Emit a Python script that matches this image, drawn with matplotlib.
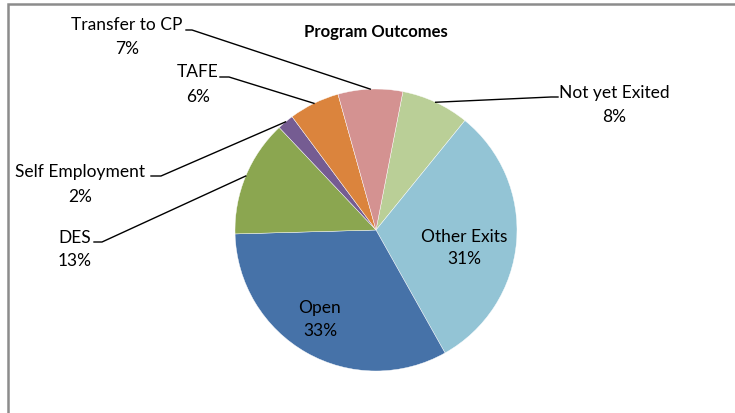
import numpy as np
import matplotlib
matplotlib.use("Agg")
import matplotlib.pyplot as plt
from matplotlib.patches import Rectangle

# Datos (en %), orden horario desde arriba
categorias = ["Not yet Exited", "Other Exits", "Open", "DES",
              "Self Employment", "TAFE", "Transfer to CP"]
valores = [7.8, 31.0, 32.7, 13.4, 1.9, 5.8, 7.4]
etiquetas_pct = ["8%", "31%", "33%", "13%", "2%", "6%", "7%"]
colores = ["#BACF97", "#93C4D5", "#4672A8", "#8BA650",
           "#755C92", "#DB843D", "#D49291"]

plt.rcParams['font.family'] = ['Lato', 'DejaVu Sans']

W, H = 735, 414
fig = plt.figure(figsize=(W / 100, H / 100), dpi=100)
ax = fig.add_axes([0, 0, 1, 1])
ax.set_xlim(0, W)
ax.set_ylim(0, H)
ax.set_aspect('equal')
ax.axis('off')

def Y(y):  # coordenada de imagen -> datos
    return H - y

# marco del grafico (cortado a la derecha y abajo)
ax.add_patch(Rectangle((8, -20), W + 20, Y(5) + 20, fill=False,
                       edgecolor="#8C8C8C", linewidth=1.8))

cx, cy, r = 376, Y(231), 141
wedges, _ = ax.pie(valores, colors=colores, startangle=79, counterclock=False,
                   center=(cx, cy), radius=r, frame=True,
                   wedgeprops=dict(edgecolor="white", linewidth=0.3))
ax.set_xlim(0, W)
ax.set_ylim(0, H)
ax.axis('off')

ax.text(376, Y(32), "Program Outcomes", ha="center", va="center",
        fontsize=12, fontweight="bold")

fs = 12.5
# etiquetas internas
internas = {"Other Exits": (464, 237, 259), "Open": (320, 308, 331)}
# etiquetas externas: centro texto, inicio/fin del tramo horizontal, y del tramo
externas = {
    "Transfer to CP": (127, 25, 49, 186, 192, 31),
    "TAFE": (198, 72, 97, 220, 229, 78),
    "Self Employment": (80, 172, 197, 151, 161, 177),
    "DES": (75, 238, 261, 94, 102, 243),
    "Not yet Exited": (614, 93, 117, 558, 551, 98),
}

for w, cat, pct in zip(wedges, categorias, etiquetas_pct):
    if cat in internas:
        x, y1, y2 = internas[cat]
        ax.text(x, Y(y1), cat, ha="center", va="center", fontsize=fs)
        ax.text(x, Y(y2), pct, ha="center", va="center", fontsize=fs)
        continue
    x, y1, y2, e1, e2, ey = externas[cat]
    ax.text(x, Y(y1), cat, ha="center", va="center", fontsize=fs)
    ax.text(x, Y(y2), pct, ha="center", va="center", fontsize=fs)
    ang = np.deg2rad((w.theta1 + w.theta2) / 2)
    px, py = cx + r * np.cos(ang), cy + r * np.sin(ang)
    ax.plot([e1, e2, px], [Y(ey), Y(ey), py], color="black", linewidth=1.0)

fig.savefig("out.png", dpi=100)
